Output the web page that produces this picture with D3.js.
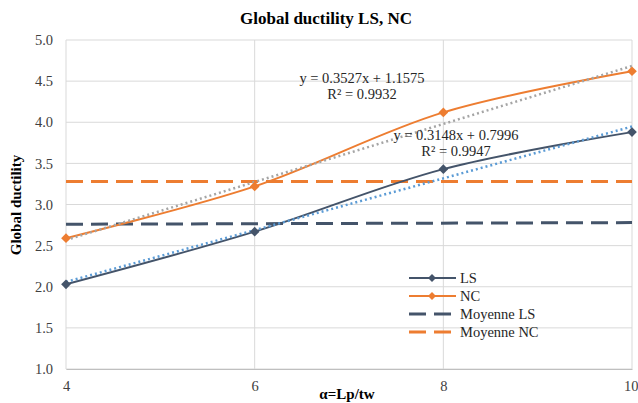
<!DOCTYPE html>
<html>
<head>
<meta charset="utf-8">
<script src="https://cdn.jsdelivr.net/npm/d3@7"></script>
<style>
  body { margin: 0; background: #fff; }
  svg { font-family: "Liberation Serif", "Times New Roman", serif; }
</style>
</head>
<body>
<svg id="chart" width="638" height="403"></svg>
<script>
// data
var alpha = [4, 6, 8, 10];
var ls = [2.03, 2.67, 3.43, 3.88];
var nc = [2.59, 3.22, 4.12, 4.62];
var moyLsX = [4, 10];
var moyLs = [2.76, 2.78];
var moyNcX = [4, 10];
var moyNc = [3.28, 3.28];
// trend line coefficients as printed on the chart
var trendLs = { slope: 0.3148, intercept: 0.7996, r2: "0.9947" };
var trendNc = { slope: 0.3527, intercept: 1.1575, r2: "0.9932" };
var yTicks = [1.0, 1.5, 2.0, 2.5, 3.0, 3.5, 4.0, 4.5, 5.0];
var xTicks = [4, 6, 8, 10];

var svg = d3.select("#chart");
var x = d3.scaleLinear().domain([4, 10]).range([66, 632]);
var y = d3.scaleLinear().domain([1, 5]).range([369, 40]);

// gridlines
svg.append("g").selectAll("line").data(yTicks).enter().append("line")
  .attr("x1", x(4)).attr("x2", x(10))
  .attr("y1", function(d) { return y(d); }).attr("y2", function(d) { return y(d); })
  .attr("stroke", "#d9d9d9").attr("stroke-width", 1);
svg.append("g").selectAll("line").data(xTicks).enter().append("line")
  .attr("x1", function(d) { return x(d); }).attr("x2", function(d) { return x(d); })
  .attr("y1", y(1)).attr("y2", y(5))
  .attr("stroke", "#d9d9d9").attr("stroke-width", 1);

// axes (labels only, no tick marks)
var yAxis = d3.axisLeft(y).tickValues(yTicks).tickFormat(d3.format(".1f")).tickSize(0).tickPadding(13);
var gy = svg.append("g").attr("transform", "translate(" + x(4) + ",0)").call(yAxis);
gy.select(".domain").remove();
gy.selectAll("text").attr("font-size", 14.5).attr("fill", "#404040")
  .attr("font-family", "Liberation Serif, serif");

var xAxis = d3.axisBottom(x).tickValues(xTicks).tickFormat(d3.format("d")).tickSize(0).tickPadding(12);
var gx = svg.append("g").attr("transform", "translate(0," + y(1) + ")").call(xAxis);
gx.select(".domain").attr("stroke", "#bfbfbf");
gx.selectAll("text").attr("font-size", 14.5).attr("fill", "#404040")
  .attr("font-family", "Liberation Serif, serif");
// last label sits against the right edge, keep it inside
gx.selectAll(".tick").filter(function(d) { return d === 10; }).select("text")
  .attr("text-anchor", "end").attr("x", 6);

// series
function pts(xs, ys) {
  return xs.map(function(d, i) { return [d, ys[i]]; });
}
var smooth = d3.line().x(function(d) { return x(d[0]); }).y(function(d) { return y(d[1]); })
  .curve(d3.curveCatmullRom.alpha(0.5));
var straight = d3.line().x(function(d) { return x(d[0]); }).y(function(d) { return y(d[1]); });

// averages
svg.append("path").attr("d", straight(pts(moyLsX, moyLs)))
  .attr("fill", "none").attr("stroke", "#44546a").attr("stroke-width", 3)
  .attr("stroke-dasharray", "17,8");
svg.append("path").attr("d", straight(pts(moyNcX, moyNc)))
  .attr("fill", "none").attr("stroke", "#ed7d31").attr("stroke-width", 3)
  .attr("stroke-dasharray", "17,8");

// main lines
svg.append("path").attr("d", smooth(pts(alpha, ls)))
  .attr("fill", "none").attr("stroke", "#44546a").attr("stroke-width", 2);
svg.append("path").attr("d", smooth(pts(alpha, nc)))
  .attr("fill", "none").attr("stroke", "#ed7d31").attr("stroke-width", 2);

// trend lines
function trendPts(t) {
  return [4, 10].map(function(d) { return [d, t.intercept + t.slope * d]; });
}
svg.append("path").attr("d", straight(trendPts(trendNc)))
  .attr("fill", "none").attr("stroke", "#a5a5a5").attr("stroke-width", 2.5)
  .attr("stroke-dasharray", "2,3");
svg.append("path").attr("d", straight(trendPts(trendLs)))
  .attr("fill", "none").attr("stroke", "#5b9bd5").attr("stroke-width", 2.5)
  .attr("stroke-dasharray", "2,3");

// diamond markers
var diamond = d3.symbol().type(d3.symbolDiamond2).size(60);
svg.append("g").selectAll("path").data(pts(alpha, ls)).enter().append("path")
  .attr("d", diamond)
  .attr("transform", function(d) { return "translate(" + x(d[0]) + "," + y(d[1]) + ")"; })
  .attr("fill", "#44546a");
svg.append("g").selectAll("path").data(pts(alpha, nc)).enter().append("path")
  .attr("d", diamond)
  .attr("transform", function(d) { return "translate(" + x(d[0]) + "," + y(d[1]) + ")"; })
  .attr("fill", "#ed7d31");

// equations
function eq(t) {
  return "y = " + t.slope + "x + " + t.intercept;
}
svg.append("text").attr("x", 362).attr("y", 83).attr("text-anchor", "middle")
  .attr("font-size", 14.5).attr("fill", "#262626").text(eq(trendNc));
svg.append("text").attr("x", 362).attr("y", 99).attr("text-anchor", "middle")
  .attr("font-size", 14.5).attr("fill", "#262626").text("R² = " + trendNc.r2);
svg.append("text").attr("x", 456).attr("y", 140).attr("text-anchor", "middle")
  .attr("font-size", 14.5).attr("fill", "#262626").text(eq(trendLs));
svg.append("text").attr("x", 456).attr("y", 156).attr("text-anchor", "middle")
  .attr("font-size", 14.5).attr("fill", "#262626").text("R² = " + trendLs.r2);

// title and axis titles
svg.append("text").attr("x", 326).attr("y", 24).attr("text-anchor", "middle")
  .attr("font-size", 17).attr("font-weight", "bold").attr("fill", "#000")
  .text("Global ductility LS, NC");
svg.append("text").attr("transform", "translate(21,205) rotate(-90)").attr("text-anchor", "middle")
  .attr("font-size", 15).attr("font-weight", "bold").attr("fill", "#000")
  .text("Global ductility");
svg.append("text").attr("x", 347).attr("y", 399).attr("text-anchor", "middle")
  .attr("font-size", 15).attr("font-weight", "bold").attr("fill", "#000")
  .text("α=Lp/tw");

// legend
var legend = [
  { name: "LS", color: "#44546a", dash: null, marker: true, w: 2 },
  { name: "NC", color: "#ed7d31", dash: null, marker: true, w: 2 },
  { name: "Moyenne LS", color: "#44546a", dash: "17,8", marker: false, w: 3 },
  { name: "Moyenne NC", color: "#ed7d31", dash: "17,8", marker: false, w: 3 }
];
var lg = svg.append("g").selectAll("g").data(legend).enter().append("g")
  .attr("transform", function(d, i) { return "translate(409," + (278 + i * 18) + ")"; });
lg.append("line").attr("x1", 0).attr("x2", 47).attr("y1", 0).attr("y2", 0)
  .attr("stroke", function(d) { return d.color; })
  .attr("stroke-width", function(d) { return d.w; })
  .attr("stroke-dasharray", function(d) { return d.dash; });
lg.filter(function(d) { return d.marker; }).append("path")
  .attr("d", d3.symbol().type(d3.symbolDiamond2).size(40))
  .attr("transform", "translate(23,0)")
  .attr("fill", function(d) { return d.color; });
lg.append("text").attr("x", 51).attr("y", 5).attr("font-size", 14.5).attr("fill", "#262626")
  .text(function(d) { return d.name; });
</script>
</body>
</html>
